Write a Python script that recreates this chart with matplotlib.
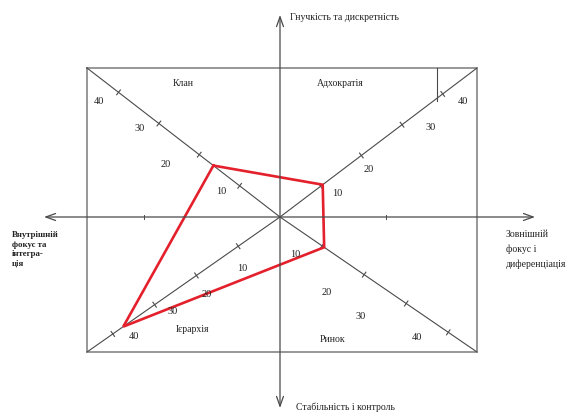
import numpy as np
import matplotlib
matplotlib.use("Agg")
import matplotlib.pyplot as plt

# Organisational culture profile (competing values framework)
cultures = ["Клан", "Адхократія", "Ринок", "Ієрархія"]
scores = [16.5, 10.5, 10.5, 37.5]
scale_ticks = [10, 20, 30, 40]

axis_top = "Гнучкість та дискретність"
axis_bottom = "Стабільність і контроль"
axis_left = "Внутрішній\nфокус та\nінтегра-\nція"
axis_right = "Зовнішній\nфокус і\nдиференціація"

W, H = 573, 416
fig = plt.figure(figsize=(W / 100, H / 100), dpi=100)
ax = fig.add_axes([0, 0, 1, 1])
ax.set_xlim(0, W)
ax.set_ylim(H, 0)
ax.axis("off")

plt.rcParams["font.family"] = ["Liberation Serif", "DejaVu Serif"]

line_col = "#4a4a4a"
box_col = "#7a7a7a"
red = "#e3202b"
txt_col = "#222222"

# centre of the diagram and the frame
cx, cy = 280, 217
left, right, top, bottom = 87, 477, 68, 352
corner = {
    "Клан": (left, top),
    "Адхократія": (right, top),
    "Ринок": (right, bottom),
    "Ієрархія": (left, bottom),
}
px_per_unit = 5.1
# placement of the scale numbers relative to each tick (one per tick)
num_offset = {
    "Клан": [(-18, 6), (-34, 10), (-19, 5), (-20, 9)],
    "Адхократія": [(17, 7), (7, 14), (29, 3), (20, 8)],
    "Ринок": [(-27, 9), (-37, 18), (-46, 13), (-31, 5)],
    "Ієрархія": [(4, 22), (10, 19), (18, 7), (21, 3)],
}
name_pos = {
    "Клан": (183, 83),
    "Адхократія": (340, 83),
    "Ринок": (332, 340),
    "Ієрархія": (192, 330),
}

# frame
ax.plot([left, right, right, left, left], [top, top, bottom, bottom, top],
        color=box_col, lw=1.1, solid_joinstyle="miter")

# main axes with open arrowheads
arrow = dict(arrowstyle="<->,head_length=0.7,head_width=0.25", color=line_col,
             lw=0.9, shrinkA=0, shrinkB=0)
ax.annotate("", xy=(535, cy), xytext=(44, cy), arrowprops=arrow)
ax.annotate("", xy=(cx, 15), xytext=(cx, 408), arrowprops=arrow)
for x in (144, 386):
    ax.plot([x, x], [cy - 2, cy + 2], color=line_col, lw=0.7)

# diagonal scales
directions = {}
for name in cultures:
    vx, vy = corner[name][0] - cx, corner[name][1] - cy
    n = np.hypot(vx, vy)
    u = np.array([vx / n, vy / n])
    directions[name] = u
    ax.plot([cx, corner[name][0]], [cy, corner[name][1]], color=line_col, lw=0.8)
    perp = np.array([-u[1], u[0]])
    for t, (ox, oy) in zip(scale_ticks, num_offset[name]):
        p = np.array([cx, cy]) + u * t * px_per_unit
        a, b = p - perp * 3, p + perp * 3
        ax.plot([a[0], b[0]], [a[1], b[1]], color=line_col, lw=0.8)
        ax.text(p[0] + ox, p[1] + oy, str(t), fontsize=7.5, color=txt_col,
                ha="center", va="center")
    ax.text(*name_pos[name], name, fontsize=7, color=txt_col,
            ha="center", va="center")

# short guide line in the upper-right quadrant
ax.plot([437, 437], [top, 101], color=line_col, lw=0.8)

# culture profile polygon
pts = [np.array([cx, cy]) + directions[n] * s * px_per_unit
       for n, s in zip(cultures, scores)]
pts.append(pts[0])
ax.plot([p[0] for p in pts], [p[1] for p in pts], color=red, lw=1.9,
        solid_joinstyle="miter")

# axis captions
ax.text(290, 17, axis_top, fontsize=7, color=txt_col, ha="left", va="center")
ax.text(296, 407, axis_bottom, fontsize=7, color=txt_col, ha="left", va="center")
ax.text(12, 231, axis_left, fontsize=6.3, color=txt_col, ha="left", va="top",
        linespacing=1.25, fontweight="bold")
ax.text(506, 230, axis_right, fontsize=7, color=txt_col, ha="left", va="top",
        linespacing=1.75)

fig.savefig("out.png", dpi=100, facecolor="white")
